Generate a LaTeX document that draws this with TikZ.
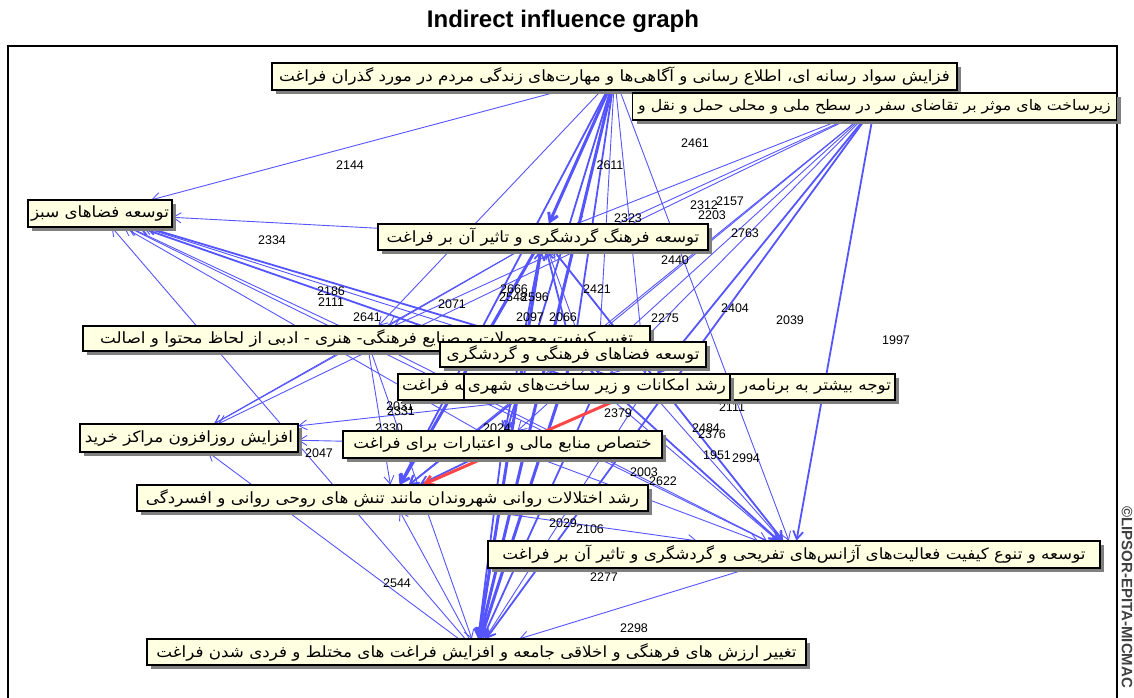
\documentclass[tikz,border=0pt]{standalone}
\usepackage{fontspec}
\setmainfont{Liberation Sans}
\newfontfamily\farsifont[Script=Arabic,FakeStretch=1.08]{DejaVu Sans}
\TeXXeTstate=1
\usetikzlibrary{arrows.meta,shadows}
\newcommand{\fatext}[1]{{\farsifont\beginR #1\endR}}
\definecolor{edgeblue}{RGB}{85,85,255}
\definecolor{edgered}{RGB}{255,70,70}
\definecolor{boxfill}{RGB}{255,255,225}
\begin{document}
\begin{tikzpicture}[x=1pt,y=-1pt,
  vbox/.style={draw=black, line width=1.4pt, fill=boxfill, inner sep=0pt,
    minimum height=27pt, font=\fontsize{15.5}{17}\selectfont,
    drop shadow={shadow xshift=4pt,shadow yshift=-4pt,fill=black!50,opacity=1}},
  link/.style={draw=edgeblue, line width=0.9pt, -{Straight Barb[length=8pt,width=10pt]}},
  w1/.style={line width=0.9pt},
  w2/.style={line width=1.8pt},
  w3/.style={line width=3pt},
  num/.style={font=\fontsize{12.5}{14}\selectfont, inner sep=0pt}]
\fill[white] (0,0) rectangle (1134,698);
\useasboundingbox (0,0) rectangle (1134,698);

% title and frame
\node[font=\bfseries\fontsize{24}{28}\selectfont] (title) at (563,21) {Indirect influence graph};
\draw[line width=1.4pt] (8,46) rectangle (1117,730);
\node[rotate=-90, anchor=west, font=\bfseries\fontsize{15}{16}\selectfont, text=black!75] (copy) at (1127,503) {\textcopyright LIPSOR-EPITA-MICMAC};

% centres of the variable boxes
\path
  (614.5,76.5) coordinate (pA)
  (874.5,106.5) coordinate (pB)
  (100,213.5) coordinate (pC)
  (543,237) coordinate (pD)
  (366.5,338.5) coordinate (pE)
  (573,354.5) coordinate (pF)
  (646.5,387) coordinate (pG)
  (597,387) coordinate (pH)
  (189,438) coordinate (pI)
  (502.5,444.5) coordinate (pJ)
  (392.5,498) coordinate (pK)
  (794,554.5) coordinate (pL)
  (476.5,652) coordinate (pM);

% empty outlines of the boxes so that the links stop at their borders
\begin{scope}[every node/.style={inner sep=0pt, minimum height=27pt}]
  \node[minimum width=685pt] (A) at (pA) {};
  \node[minimum width=484pt] (B) at (pB) {};
  \node[minimum width=144pt] (C) at (pC) {};
  \node[minimum width=330pt, minimum height=26pt] (D) at (pD) {};
  \node[minimum width=567pt, minimum height=25pt] (E) at (pE) {};
  \node[minimum width=266pt, minimum height=25pt] (F) at (pF) {};
  \node[minimum width=497pt, minimum height=26pt] (G) at (pG) {};
  \node[minimum width=266pt, minimum height=26pt] (H) at (pH) {};
  \node[minimum width=218pt, minimum height=28pt] (I) at (pI) {};
  \node[minimum width=319pt] (J) at (pJ) {};
  \node[minimum width=511pt, minimum height=26pt] (K) at (pK) {};
  \node[minimum width=612pt] (L) at (pL) {};
  \node[minimum width=659pt, minimum height=26pt] (M) at (pM) {};
\end{scope}

% indirect influences
\foreach \s/\t/\w in {
  A/C/w1, A/D/w3, A/M/w3, A/K/w2, A/J/w2, A/F/w2, A/H/w1, A/L/w1, A/G/w1, A/E/w1,
  B/D/w1, B/F/w1, B/G/w2, B/L/w2, B/M/w2, B/K/w1, B/J/w1, B/E/w1, B/I/w1, B/H/w1,
  D/C/w1, D/M/w3, D/K/w3, D/L/w2, D/I/w1, D/J/w2, D/E/w1,
  E/C/w1, E/L/w1, E/M/w1, E/I/w1, E/K/w1,
  F/C/w2, F/L/w2, F/M/w3, F/K/w2, F/D/w2,
  H/C/w2, H/L/w1, H/M/w2, H/D/w1,
  G/C/w1, G/L/w1, G/M/w1, G/I/w1,
  J/I/w1, J/K/w2, J/L/w1, J/M/w2, J/C/w1,
  K/L/w1, L/M/w1, L/D/w1, L/C/w1,
  M/K/w1, M/D/w2, M/C/w1, M/I/w1}
  \draw[link,\w] (\s) -- (\t);
\draw[link, w3, draw=edgered] (G) -- (K);

% influence values
\node[num] (v2144) at (350,165) {2144};
\node[num] (v2611) at (610,165) {2611};
\node[num] (v2461) at (695,143) {2461};
\node[num] (v2312) at (704,205) {2312};
\node[num] (v2157) at (730,201) {2157};
\node[num] (v2203) at (712,215) {2203};
\node[num] (v2323) at (628,218) {2323};
\node[num] (v2763) at (745,233) {2763};
\node[num] (v2440) at (675,260) {2440};
\node[num] (v2334) at (272,240) {2334};
\node[num] (v2421) at (597,289) {2421};
\node[num] (v2275) at (665,318) {2275};
\node[num] (v2404) at (735,308) {2404};
\node[num] (v2039) at (790,320) {2039};
\node[num] (v1997) at (896,340) {1997};
\node[num] (v2186) at (331,291) {2186};
\node[num] (v2111a) at (331,302) {2111};
\node[num] (v2071) at (452,304) {2071};
\node[num] (v2641) at (367,317) {2641};
\node[num] (v2666) at (514,289) {2666};
\node[num] (v2548) at (513,297) {2548};
\node[num] (v2596) at (535,297) {2596};
\node[num] (v2097) at (530,317) {2097};
\node[num] (v2066) at (563,317) {2066};
\node[num] (v2111b) at (732,407) {2111};
\node[num] (v2031) at (400,406) {2031};
\node[num] (v2331) at (401,411) {2331};
\node[num] (v2330) at (389,428) {2330};
\node[num] (v2024) at (497,428) {2024};
\node[num] (v2379) at (618,413) {2379};
\node[num] (v2484) at (706,428) {2484};
\node[num] (v2376) at (712,434) {2376};
\node[num] (v1951) at (717,455) {1951};
\node[num] (v2994) at (746,458) {2994};
\node[num] (v2003) at (644,472) {2003};
\node[num] (v2622) at (663,481) {2622};
\node[num] (v2047) at (319,453) {2047};
\node[num] (v2029) at (563,523) {2029};
\node[num] (v2106) at (590,529) {2106};
\node[num] (v2277) at (604,577) {2277};
\node[num] (v2544) at (397,583) {2544};
\node[num] (v2298) at (634,628) {2298};

% variable boxes
\node[vbox, minimum width=685pt] (bA) at (pA) {\fatext{فزايش سواد رسانه ای، اطلاع رسانی و آگاهی‌ها و مهارت‌های زندگی مردم در مورد گذران فراغت}};
\node[vbox, minimum width=484pt, font=\fontsize{14.6}{17}\selectfont] (bB) at (pB) {\fatext{زیرساخت های موثر بر تقاضای سفر در سطح ملی و محلی حمل و نقل و}};
\node[vbox, minimum width=144pt] (bC) at (pC) {\fatext{توسعه فضاهای سبز}};
\node[vbox, minimum width=330pt, minimum height=26pt] (bD) at (pD) {\fatext{توسعه فرهنگ گردشگری و تاثیر آن بر فراغت}};
\node[vbox, minimum width=567pt, minimum height=25pt] (bE) at (pE) {\fatext{تغییر کیفیت محصولات و صنایع فرهنگی- هنری - ادبی از لحاظ محتوا و اصالت}};
\node[vbox, minimum width=266pt, minimum height=25pt] (bF) at (pF) {\fatext{توسعه فضاهای فرهنگی و گردشگری}};
\node[vbox, minimum width=497pt, minimum height=26pt] (bG) at (pG) {\makebox[489pt]{\fatext{توجه بیشتر به برنامه‌ر\hfill به فراغت}}};
\node[vbox, minimum width=266pt, minimum height=26pt] (bH) at (pH) {\fatext{رشد امکانات و زیر ساخت‌های شهری}};
\node[vbox, minimum width=218pt, minimum height=28pt] (bI) at (pI) {\fatext{افزایش روزافزون مراکز خرید}};
\node[vbox, minimum width=319pt] (bJ) at (pJ) {\fatext{ختصاص منابع مالی و اعتبارات برای فراغت}};
\node[vbox, minimum width=511pt, minimum height=26pt] (bK) at (pK) {\fatext{رشد اختلالات روانی شهروندان مانند تنش های روحی روانی و  افسردگی}};
\node[vbox, minimum width=612pt] (bL) at (pL) {\fatext{توسعه و تنوع کیفیت فعالیت‌های آژانس‌های تفریحی و گردشگری و تاثیر آن بر فراغت}};
\node[vbox, minimum width=659pt, minimum height=26pt] (bM) at (pM) {\fatext{تغییر ارزش های فرهنگی و اخلاقی جامعه و افزایش  فراغت های مختلط و فردی شدن  فراغت}};
\end{tikzpicture}
\end{document}
